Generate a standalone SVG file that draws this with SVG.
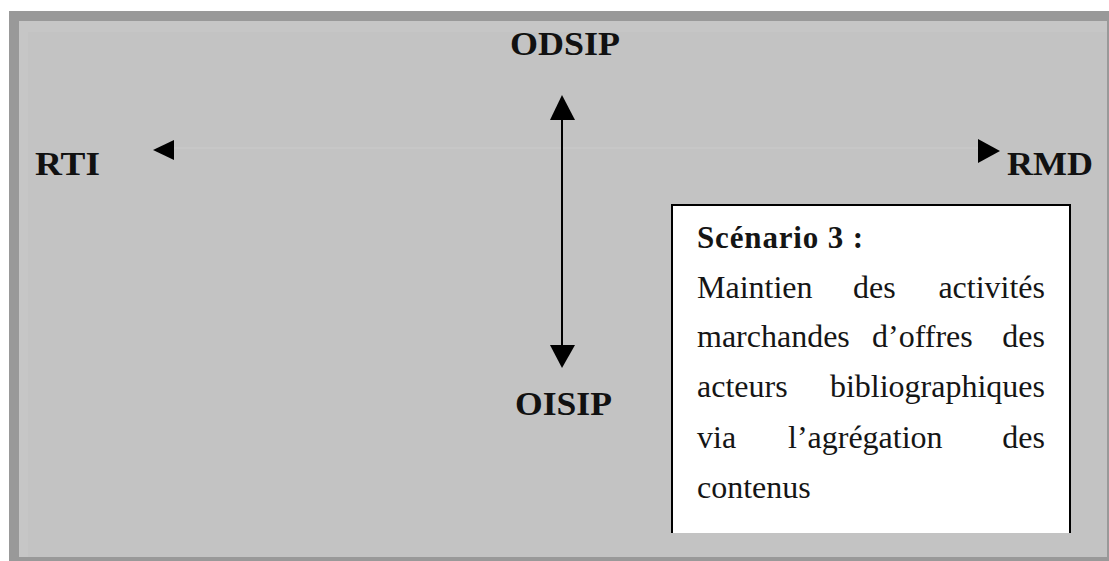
<svg xmlns="http://www.w3.org/2000/svg" width="1109" height="561" viewBox="0 0 1109 561">
<defs>
<style>
.lbl{font-family:"Liberation Serif","Times New Roman",serif;font-weight:bold;font-size:33px;fill:#111}
.t{font-family:"Liberation Serif","Times New Roman",serif;font-size:32px;fill:#151515}
.tb{font-family:"Liberation Serif","Times New Roman",serif;font-weight:bold;font-size:31px;fill:#151515}
.e{text-anchor:end}
</style>
</defs>
<rect x="0" y="0" width="1109" height="561" fill="#ffffff"/>
<g id="frame">
<rect x="9" y="11" width="1100" height="550" fill="#999999"/>
<rect x="19" y="21" width="1088" height="536" fill="#c3c3c3"/>
<rect x="19" y="21" width="1088" height="11" fill="#c6c6c6"/>
<rect x="19" y="21" width="9" height="536" fill="#c6c6c6"/>
</g>
<g id="connectors">
<line x1="174" y1="148" x2="978" y2="148" stroke="#c9c9c9" stroke-width="1.5"/>
<polygon points="153,150 174,140 174,160" fill="#000"/>
<polygon points="1000,151 978,139 978,163" fill="#000"/>
<line x1="562" y1="115" x2="562" y2="350" stroke="#000" stroke-width="2"/>
<polygon points="562,95 550,120 575,120" fill="#000"/>
<polygon points="562,368 550,345 575,345" fill="#000"/>
</g>
<g id="node-odsip"><text class="lbl" x="510" y="55" textLength="110" lengthAdjust="spacingAndGlyphs">ODSIP</text></g>
<g id="node-oisip"><text class="lbl" x="515" y="415" textLength="97" lengthAdjust="spacingAndGlyphs">OISIP</text></g>
<g id="node-rti"><text class="lbl" x="35" y="175" textLength="65" lengthAdjust="spacingAndGlyphs">RTI</text></g>
<g id="node-rmd"><text class="lbl" x="1007" y="175" textLength="86" lengthAdjust="spacingAndGlyphs">RMD</text></g>
<g id="node-scenario">
<path d="M672,533 V205 H1070 V533" fill="#ffffff" stroke="#000" stroke-width="2"/>
<text class="tb" x="697" y="248" textLength="166" lengthAdjust="spacing">Scénario 3 :</text>
<text class="t" x="697" y="298">Maintien</text>
<text class="t" x="853" y="298">des</text>
<text class="t e" x="1045" y="298">activités</text>
<text class="t" x="697" y="347">marchandes</text>
<text class="t" x="872" y="347">d’offres</text>
<text class="t e" x="1045" y="347">des</text>
<text class="t" x="697" y="397">acteurs</text>
<text class="t e" x="1045" y="397">bibliographiques</text>
<text class="t" x="697" y="448">via</text>
<text class="t" x="788" y="448">l’agrégation</text>
<text class="t e" x="1045" y="448">des</text>
<text class="t" x="697" y="498">contenus</text>
</g>
</svg>
